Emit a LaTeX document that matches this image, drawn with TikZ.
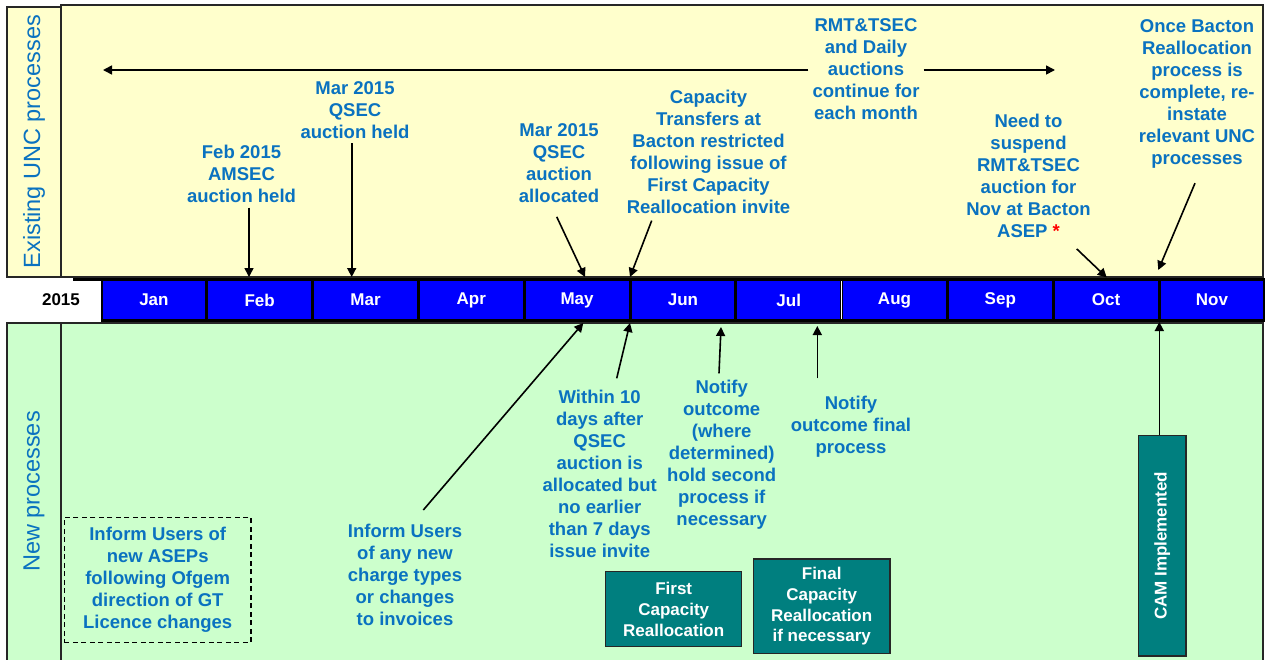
\documentclass[tikz,border=0pt]{standalone}
\usepackage{fontspec}
\setmainfont{Liberation Sans}
\usetikzlibrary{arrows.meta}
\definecolor{txtblue}{HTML}{0A72C0}
\definecolor{paleyellow}{HTML}{FFFFCC}
\definecolor{palegreen}{HTML}{CCFFCC}
\definecolor{barblue}{HTML}{0000FF}
\definecolor{tealbox}{HTML}{007F7F}
\begin{document}
\begin{tikzpicture}[x=1pt,y=-1pt,
  note/.style={text=txtblue, font=\bfseries\fontsize{18.5}{22}\selectfont, align=center, inner sep=0pt, anchor=north},
  arr/.style={line width=1.6pt, -{Triangle[length=9pt,width=9pt]}},
  monthcell/.style={fill=barblue, text=white, font=\bfseries\fontsize{17}{20}\selectfont, minimum width=102.8pt, minimum height=38pt, inner sep=0pt},
  procbox/.style={fill=tealbox, draw=black!85, line width=1.4pt, text=white, font=\bfseries\fontsize{17}{20.8}\selectfont, align=center, inner sep=0pt},
  sidelabel/.style={text=txtblue, font=\fontsize{23.5}{26}\selectfont, rotate=90, inner sep=0pt},
  panel/.style={draw=black!85, line width=1.2pt}
]
\useasboundingbox (0,0) rectangle (1265,659);
% panels
\draw[panel, fill=paleyellow] (61,5) rectangle (1263,277);
\draw[panel, fill=paleyellow] (7,7) rectangle (61,277);
\draw[panel, fill=palegreen] (61,323) rectangle (1263,664);
\draw[panel, fill=palegreen] (7,323) rectangle (61,664);
% month bar
\fill[black] (101,278) rectangle (1265,322);
\draw[line width=3pt] (73,279.5) -- (101,279.5);
\foreach \m [count=\i] in {Jan,Feb,Mar,Apr,May,Jun,Jul,Aug,Sep,Oct,Nov}
  \node[monthcell] (m\i) at ({101+105.8*(\i-0.5)},300) {\m};
\draw[white, line width=1.2pt] (841.6,281) -- (841.6,319);
\node[font=\bfseries\fontsize{17}{20}\selectfont, inner sep=0pt] (yr) at (61,300) {2015};
% side labels
\node[sidelabel] (lexist) at (34,141.6) {Existing UNC processes};
\node[sidelabel] (lnew) at (34,491.5) {New processes};
% notes top
\node[note] (feb) at (241.5,144.6) {Feb 2015\\AMSEC\\auction held};
\node[note] (marh) at (355,81.6) {Mar 2015\\QSEC\\auction held};
\node[note] (alloc) at (559,123.6) {Mar 2015\\QSEC\\auction\\allocated};
\node[note] (cap) at (708.5,89.6) {Capacity\\Transfers at\\Bacton restricted\\following issue of\\First Capacity\\Reallocation invite};
\node[note, inner xsep=4pt] (rmt) at (866,18.6) {RMT\&TSEC\\and Daily\\auctions\\continue for\\each month};
\node[note] (need) at (1028.5,113.6) {Need to\\suspend\\RMT\&TSEC\\auction for\\Nov at Bacton\\ASEP {\color{red}*}};
\node[note] (once) at (1197,19.6) {Once Bacton\\Reallocation\\process is\\complete, re-\\instate\\relevant UNC\\processes};
% notes bottom
\node[note] (inf) at (405,523.6) {Inform Users\\of any new\\charge types\\or changes\\to invoices};
\node[note] (within) at (599.7,389.6) {Within 10\\days after\\QSEC\\auction is\\allocated but\\no earlier\\than 7 days\\issue invite};
\node[note] (not1) at (721.7,379.6) {Notify\\outcome\\(where\\determined)\\hold second\\process if\\necessary};
\node[note] (not2) at (851,395.6) {Notify\\outcome final\\process};
\node[note, anchor=center, draw=black, dashed, line width=1.3pt, dash pattern=on 5pt off 3.5pt, minimum width=186.7pt, minimum height=125pt] (asep) at (157.7,579.8) {Inform Users of\\new ASEPs\\following Ofgem\\direction of GT\\Licence changes};
% process boxes
\node[procbox, minimum width=136pt, minimum height=75pt] (first) at (673.7,609.2) {First\\Capacity\\Reallocation};
\node[procbox, minimum width=136.7pt, minimum height=94.3pt] (final) at (821.7,606.2) {Final\\Capacity\\Reallocation\\if necessary};
\node[procbox, rotate=90, font=\bfseries\fontsize{17}{20}\selectfont, minimum width=220.3pt, minimum height=47.7pt] (cam) at (1162.2,545.8) {CAM Implemented};
% coordinates
\coordinate (aL) at (103,70);
\coordinate (aR) at (1055,70);
\coordinate (hfeb) at (249,277);
\coordinate (hmar) at (351.7,277);
\coordinate (halloc) at (585,277);
\coordinate (hcap) at (630,277);
\coordinate (hneed) at (1106.7,277.5);
\coordinate (honce) at (1158.3,270);
\coordinate (hinf) at (583.3,323);
\coordinate (hwithin) at (630,323);
\coordinate (hnot1) at (721,327);
\coordinate (hnot2) at (817.3,326);
\coordinate (hcam) at (1159.3,322);
% connectors
\draw[arr] (rmt.west |- aL) -- (aL);
\draw[arr] (rmt.east |- aR) -- (aR);
\draw[arr] ([shift={(7.5,5)}]feb.south) -- (hfeb);
\draw[arr] ([shift={(-3.3,4)}]marh.south) -- (hmar);
\draw[arr] ([shift={(-2.3,13.7)}]alloc.south) -- (halloc);
\draw[arr] ([shift={(-56.8,7)}]cap.south) -- (hcap);
\draw[arr] ([shift={(48.2,11.3)}]need.south) -- (hneed);
\draw[arr] ([shift={(-2,14.4)}]once.south) -- (honce);
\draw[arr] ([shift={(18.3,-13.6)}]inf.north) -- (hinf);
\draw[arr] ([shift={(17,-11.3)}]within.north) -- (hwithin);
\draw[arr] ([shift={(-2.7,-6.3)}]not1.north) -- (hnot1);
\draw[arr] ([shift={(-33.7,-17.3)}]not2.north) -- (hnot2);
\draw[arr] (cam.east -| hcam) -- (hcam);
\end{tikzpicture}
\end{document}
